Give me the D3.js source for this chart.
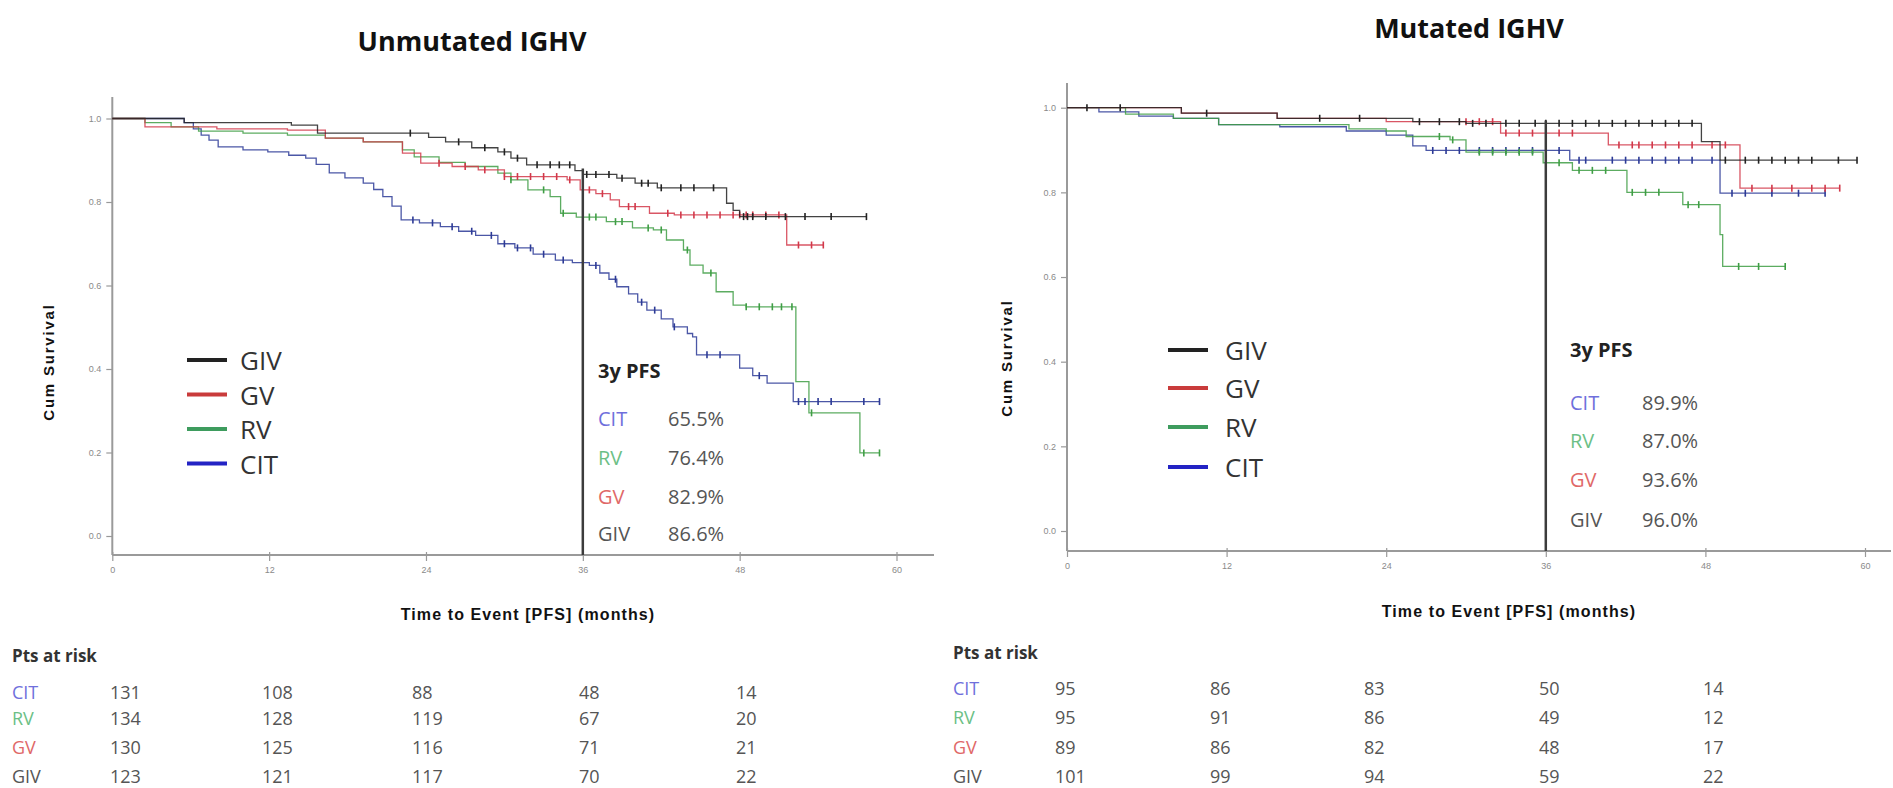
<!DOCTYPE html>
<html>
<head>
<meta charset="utf-8">
<script src="https://cdn.jsdelivr.net/npm/d3@7"></script>
<style>
html,body{margin:0;padding:0;background:#fff;}
svg{display:block;}
</style>
</head>
<body>
<svg id="chart" width="1893" height="788"></svg>
<script>
// ---------------- DATA ----------------
const xTicks = [0, 12, 24, 36, 48, 60];
const yTicks = [0.0, 0.2, 0.4, 0.6, 0.8, 1.0];
const legendGroups = ["GIV", "GV", "RV", "CIT"];
const pfsGroups = ["CIT", "RV", "GV", "GIV"];
const riskGroups = ["CIT", "RV", "GV", "GIV"];

// Unmutated IGHV: [month, survival] steps
const unmutGIV = [[0,1],[5.5,0.99],[13.7,0.984],[15.7,0.965],[24.2,0.955],[25.5,0.944],[27.5,0.93],[29.5,0.92],[30.5,0.905],[31.7,0.889],[35.4,0.875],[36,0.866],[38.6,0.857],[40,0.845],[41.7,0.834],[47.0,0.797],[47.5,0.78],[48,0.765],[57.7,0.765]];
const unmutGV = [[0,1],[2.5,0.98],[8,0.975],[13.4,0.972],[16.3,0.953],[19.2,0.944],[22.2,0.917],[23.6,0.893],[26,0.885],[28,0.877],[30,0.861],[34.8,0.853],[35.8,0.829],[37,0.82],[38.1,0.805],[38.8,0.789],[41.1,0.773],[43,0.769],[51.6,0.697],[54.4,0.697]];
const unmutRV = [[0,1],[2.5,0.99],[4.5,0.98],[6.6,0.97],[10,0.965],[13.4,0.96],[16.3,0.953],[19.2,0.944],[22.2,0.925],[23.1,0.908],[25,0.895],[27,0.885],[29.5,0.869],[30.5,0.853],[31.8,0.829],[33.5,0.813],[34.3,0.773],[35.5,0.764],[37.8,0.753],[39.8,0.738],[41.4,0.733],[42.4,0.709],[43.7,0.685],[44.2,0.649],[45.2,0.63],[46.2,0.585],[47.5,0.553],[48.5,0.549],[52.3,0.37],[53.3,0.295],[57.2,0.199],[58.7,0.199]];
const unmutCIT = [[0,1],[5.5,0.99],[6.2,0.975],[6.8,0.96],[7.4,0.948],[8.1,0.932],[10,0.925],[11.9,0.92],[13.5,0.912],[14.8,0.905],[15.6,0.89],[16.6,0.87],[17.8,0.858],[19.2,0.845],[20,0.83],[20.7,0.813],[21.4,0.79],[22.1,0.757],[23.5,0.75],[25.1,0.741],[26.5,0.73],[27.8,0.72],[29.5,0.70],[30.8,0.69],[32.2,0.675],[33.9,0.661],[35.2,0.655],[36.5,0.648],[37.3,0.63],[38,0.615],[38.6,0.597],[39.5,0.58],[40.2,0.56],[40.9,0.541],[42,0.52],[42.9,0.501],[44.0,0.485],[44.4,0.477],[44.7,0.434],[48,0.402],[49,0.384],[50.1,0.366],[52.1,0.322],[58.7,0.322]];

// Mutated IGHV
const mutGIV = [[0,1],[8.6,0.987],[15.8,0.975],[26,0.967],[30,0.963],[47.7,0.92],[49.1,0.876],[59.4,0.876]];
const mutGV = [[0,1],[8.6,0.987],[15.8,0.975],[24,0.967],[32.6,0.94],[40.7,0.912],[50.6,0.81],[58.1,0.81]];
const mutRV = [[0,1],[4.4,0.985],[8,0.975],[11.4,0.96],[21.2,0.95],[24,0.945],[25.5,0.932],[28.8,0.924],[30,0.895],[35.8,0.87],[38,0.852],[42.1,0.8],[46.3,0.771],[49.1,0.70],[49.3,0.625],[54,0.625]];
const mutCIT = [[0,1],[2.4,0.99],[5.4,0.98],[8,0.975],[11.4,0.96],[16,0.955],[21,0.945],[24,0.935],[26,0.91],[27,0.899],[37.8,0.876],[49.1,0.798],[57,0.798]];

// censoring times (months)
const censUnmutGIV = [22.8,26.5,28.5,30,31,32.5,33.5,34.2,35,36.3,37,38,39,40.5,41,42,43.5,44.5,46,48.3,48.6,49,50,51.5,53,55,57.7];
const censUnmutGV = [25,27,28.5,30,31,32,33,34,35,36.5,37.5,39.5,40,42.5,43.5,44.5,45.5,46.5,47.5,48,48.5,49,50,51,52.5,53.5,54.4];
const censUnmutRV = [30.5,33,34.5,36.5,37,38.5,39,41,42,44,45.8,48.5,49.5,50.5,51.2,52,53.5,57.5,58.7];
const censUnmutCIT = [23,24.5,26,27.5,29,30,31,32,33,34.5,36,37,38.5,40.5,41.5,43,45.5,46.5,49.5,52.5,53,54,55,57.5,58.7];
const censMutGIV = [1.5,4,10.5,19,22,26.5,28,29.5,30.5,31.5,33,34,35.2,36,37,38,39,40,41,42,43,44,45,46,47,49.5,51,52,53,54,55,56,58,59.4];
const censMutGV = [30,31,32,33,34,35,36,37,38,41.5,42.5,43,44,45,46,47,48.5,49.5,51.5,53,54.5,56,57,58.1];
const censMutRV = [28,29,31,32,33,34,35,37,38.5,39.5,40.5,42.5,43.5,44.5,46.7,47.5,50.5,52,54];
const censMutCIT = [27.5,28.5,29.5,31,32,33,34,35,36,37,38.5,39,41,42,43,44,45,46,47,48.5,50,51,53,55,57];

// 3-year PFS
const unmutPFS = ["65.5%", "76.4%", "82.9%", "86.6%"];
const mutPFS = ["89.9%", "87.0%", "93.6%", "96.0%"];
const landmarkMonth = 36;
const unmutLandmarkTop = 0.88;
const mutLandmarkTop = 0.97;

// patients at risk (CIT, RV, GV, GIV rows)
const unmutRiskCIT = [131, 108, 88, 48, 14];
const unmutRiskRV = [134, 128, 119, 67, 20];
const unmutRiskGV = [130, 125, 116, 71, 21];
const unmutRiskGIV = [123, 121, 117, 70, 22];
const mutRiskCIT = [95, 86, 83, 50, 14];
const mutRiskRV = [95, 91, 86, 49, 12];
const mutRiskGV = [89, 86, 82, 48, 17];
const mutRiskGIV = [101, 99, 94, 59, 22];

const titles = ["Unmutated IGHV", "Mutated IGHV"];
const xTitle = "Time to Event [PFS] (months)";
const yTitle = "Cum Survival";

// ---------------- STYLE ----------------
const lineColor = {GIV: "#222222", GV: "#d2384a", RV: "#3f9e45", CIT: "#2c3a96"};
const legendColor = {GIV: "#222222", GV: "#c93b3b", RV: "#3e9c5e", CIT: "#2323c4"};
const labelColor = {GIV: "#555555", GV: "#e06868", RV: "#6cbf86", CIT: "#6f6fdc"};
const FONT = "'Open Sans', 'Noto Sans', sans-serif";
const AXFONT = "'Liberation Sans', Arial, sans-serif";

const svg = d3.select("#chart");

const panels = [
  {
    title: titles[0], titleX: 472, titleY: 40,
    x0: 112.3, x60: 896.5, y1: 118.5, y0: 536,
    axTop: 97, axBottom: 555, axRight: 934,
    yTitleX: 48, yTitleY: 362, xTitleX: 528, xTitleY: 614,
    curves: {GIV: unmutGIV, GV: unmutGV, RV: unmutRV, CIT: unmutCIT},
    cens: {GIV: censUnmutGIV, GV: censUnmutGV, RV: censUnmutRV, CIT: censUnmutCIT},
    pfs: unmutPFS, lmTop: unmutLandmarkTop,
    legX: 187, legTextX: 240, legY: [360, 394.5, 429, 463.5],
    pfsLabX: 598, pfsValX: 668, pfsHeadY: 370, pfsY: [418, 457, 496, 533],
    risk: {CIT: unmutRiskCIT, RV: unmutRiskRV, GV: unmutRiskGV, GIV: unmutRiskGIV},
    riskLabX: 12, riskHeadY: 655, riskY: [692, 718, 747, 776], riskColX: [110, 262, 412, 579, 736]
  },
  {
    title: titles[1], titleX: 1469, titleY: 27,
    x0: 1067, x60: 1865, y1: 107.7, y0: 531,
    axTop: 83, axBottom: 551, axRight: 1891,
    yTitleX: 1006, yTitleY: 358, xTitleX: 1509, xTitleY: 611,
    curves: {GIV: mutGIV, GV: mutGV, RV: mutRV, CIT: mutCIT},
    cens: {GIV: censMutGIV, GV: censMutGV, RV: censMutRV, CIT: censMutCIT},
    pfs: mutPFS, lmTop: mutLandmarkTop,
    legX: 1168, legTextX: 1225, legY: [350, 388, 427, 467],
    pfsLabX: 1570, pfsValX: 1642, pfsHeadY: 349, pfsY: [402, 440, 479, 519],
    risk: {CIT: mutRiskCIT, RV: mutRiskRV, GV: mutRiskGV, GIV: mutRiskGIV},
    riskLabX: 953, riskHeadY: 652, riskY: [688, 717, 747, 776], riskColX: [1055, 1210, 1364, 1539, 1703]
  }
];

function survAt(steps, t) {
  let v = steps[0][1];
  for (const [m, s] of steps) { if (m <= t) v = s; else break; }
  return v;
}

panels.forEach(p => {
  const g = svg.append("g");
  const x = d3.scaleLinear().domain([0, 60]).range([p.x0, p.x60]);
  const y = d3.scaleLinear().domain([0, 1]).range([p.y0, p.y1]);

  // title
  g.append("text").attr("x", p.titleX).attr("y", p.titleY)
    .attr("text-anchor", "middle").attr("dominant-baseline", "central")
    .style("font-family", FONT).style("font-weight", "700").style("font-size", "27px")
    .attr("fill", "#111").text(p.title);

  // axes lines
  g.append("line").attr("x1", p.x0).attr("x2", p.x0).attr("y1", p.axTop).attr("y2", p.axBottom)
    .attr("stroke", "#9a9a9a").attr("stroke-width", 2);
  g.append("line").attr("x1", p.x0).attr("x2", p.axRight).attr("y1", p.axBottom).attr("y2", p.axBottom)
    .attr("stroke", "#9a9a9a").attr("stroke-width", 2);

  // y axis ticks via d3 axis
  const yAx = d3.axisLeft(y).tickValues(yTicks).tickFormat(d3.format(".1f")).tickSize(6).tickPadding(5);
  const yG = g.append("g").attr("transform", `translate(${p.x0},0)`).call(yAx);
  yG.select(".domain").remove();
  yG.selectAll(".tick line").attr("stroke", "#999").attr("stroke-width", 1.2);
  yG.selectAll(".tick text").attr("fill", "#8a8a8a").style("font-size", "9px").style("font-family", AXFONT);

  // x axis ticks
  const xAx = d3.axisBottom(x).tickValues(xTicks).tickFormat(d3.format("d")).tickSize(6).tickPadding(6);
  const xG = g.append("g").attr("transform", `translate(0,${p.axBottom})`).call(xAx);
  xG.select(".domain").remove();
  xG.selectAll(".tick line").attr("stroke", "#999").attr("stroke-width", 1.2).attr("y1", -3);
  xG.selectAll(".tick text").attr("fill", "#8a8a8a").style("font-size", "9px").style("font-family", AXFONT);

  // axis titles
  g.append("text").attr("x", p.xTitleX).attr("y", p.xTitleY)
    .attr("text-anchor", "middle").attr("dominant-baseline", "central")
    .style("font-family", AXFONT).style("font-weight", "700").style("font-size", "16px")
    .style("letter-spacing", "1.1px")
    .attr("fill", "#111").text(xTitle);
  g.append("text").attr("transform", `translate(${p.yTitleX},${p.yTitleY}) rotate(-90)`)
    .attr("text-anchor", "middle").attr("dominant-baseline", "central")
    .style("font-family", AXFONT).style("font-weight", "700").style("font-size", "15px")
    .style("letter-spacing", "1.8px")
    .attr("fill", "#111").text(yTitle);

  // curves
  const line = d3.line().x(d => x(d[0])).y(d => y(d[1])).curve(d3.curveStepAfter);
  ["CIT", "RV", "GV", "GIV"].forEach(k => {
    g.append("path").datum(p.curves[k]).attr("d", line)
      .attr("fill", "none").attr("stroke", lineColor[k]).attr("stroke-width", 1.3).attr("opacity", 0.85);
    g.selectAll(null).data(p.cens[k]).enter().append("line")
      .attr("x1", d => x(d)).attr("x2", d => x(d))
      .attr("y1", d => y(survAt(p.curves[k], d)) - 3.5)
      .attr("y2", d => y(survAt(p.curves[k], d)) + 3.5)
      .attr("stroke", lineColor[k]).attr("stroke-width", 1.6);
  });

  // landmark line at 36 months
  g.append("line").attr("x1", x(landmarkMonth)).attr("x2", x(landmarkMonth))
    .attr("y1", y(p.lmTop)).attr("y2", p.axBottom)
    .attr("stroke", "#3c3c3c").attr("stroke-width", 2.5);

  // legend
  legendGroups.forEach((k, i) => {
    g.append("line").attr("x1", p.legX).attr("x2", p.legX + 40)
      .attr("y1", p.legY[i]).attr("y2", p.legY[i])
      .attr("stroke", legendColor[k]).attr("stroke-width", 4);
    g.append("text").attr("x", p.legTextX).attr("y", p.legY[i])
      .attr("dominant-baseline", "central")
      .style("font-family", FONT).style("font-size", "26px")
      .attr("fill", "#333").text(k);
  });

  // 3y PFS block
  g.append("text").attr("x", p.pfsLabX).attr("y", p.pfsHeadY).attr("dominant-baseline", "central")
    .style("font-family", FONT).style("font-weight", "700").style("font-size", "20px")
    .attr("fill", "#222").text("3y PFS");
  pfsGroups.forEach((k, i) => {
    g.append("text").attr("x", p.pfsLabX).attr("y", p.pfsY[i]).attr("dominant-baseline", "central")
      .style("font-family", FONT).style("font-size", "20px").attr("fill", labelColor[k]).text(k);
    g.append("text").attr("x", p.pfsValX).attr("y", p.pfsY[i]).attr("dominant-baseline", "central")
      .style("font-family", FONT).style("font-size", "20px").attr("fill", "#555").text(p.pfs[i]);
  });

  // Pts at risk table
  g.append("text").attr("x", p.riskLabX).attr("y", p.riskHeadY).attr("dominant-baseline", "central")
    .style("font-family", FONT).style("font-weight", "700").style("font-size", "17px")
    .attr("fill", "#333").text("Pts at risk");
  riskGroups.forEach((k, i) => {
    g.append("text").attr("x", p.riskLabX).attr("y", p.riskY[i]).attr("dominant-baseline", "central")
      .style("font-family", FONT).style("font-size", "18px").attr("fill", labelColor[k]).text(k);
    p.risk[k].forEach((v, j) => {
      g.append("text").attr("x", p.riskColX[j]).attr("y", p.riskY[i]).attr("dominant-baseline", "central")
        .style("font-family", FONT).style("font-size", "18px").attr("fill", "#555").text(v);
    });
  });
});
</script>
</body>
</html>
